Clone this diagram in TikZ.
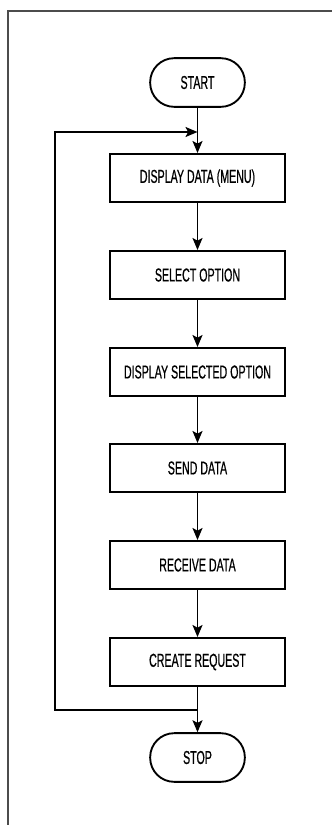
\documentclass[tikz,border=0pt]{standalone}
\usepackage{fontspec}
\newfontfamily\flowfont{Liberation Sans}[FakeStretch=0.57,FakeBold=0.6]
\usetikzlibrary{arrows.meta}

\begin{document}
\begin{tikzpicture}[x=0.75pt,y=-0.75pt,
  every node/.style={font=\flowfont\fontsize{14}{16}\selectfont},
  process/.style={draw,line width=1.5pt,minimum width=131pt,minimum height=36pt,inner sep=0pt},
  terminal/.style={draw,line width=1.4pt,rounded corners=18pt,minimum width=71pt,minimum height=36.5pt,inner sep=0pt},
  flow/.style={line width=1.4pt,-{Stealth[length=9pt,width=7.5pt,inset=2pt]}},
  frame/.style={draw=black!70,line width=1.5pt}]
\useasboundingbox (0,0) rectangle (332,825);
\draw[frame] (340,11) -- (8,11) -- (8,835);

\node[terminal] (start) at (197.5,82.5) {START};
\node[process] (menu) at (197.5,178) {DISPLAY DATA (MENU)};
\node[process] (select) at (197.5,275) {SELECT OPTION};
\node[process] (shown) at (197.5,372) {DISPLAY SELECTED OPTION};
\node[process] (send) at (197.5,468) {SEND DATA};
\node[process] (receive) at (197.5,565) {RECEIVE DATA};
\node[process] (request) at (197.5,662) {CREATE REQUEST};
\node[terminal] (stop) at (197.5,757.5) {STOP};

\coordinate (join) at (197.5,710);
\coordinate (loopbot) at (55,710);
\coordinate (looptop) at (55,132);
\coordinate (entry) at (197.5,132);

\draw[flow] (start) -- (menu);
\draw[flow] (menu) -- (select);
\draw[flow] (select) -- (shown);
\draw[flow] (shown) -- (send);
\draw[flow] (send) -- (receive);
\draw[flow] (receive) -- (request);
\draw[flow] (request) -- (stop);
\draw[flow] (join) -- (loopbot) -- (looptop) -- (entry);
\end{tikzpicture}
\end{document}
